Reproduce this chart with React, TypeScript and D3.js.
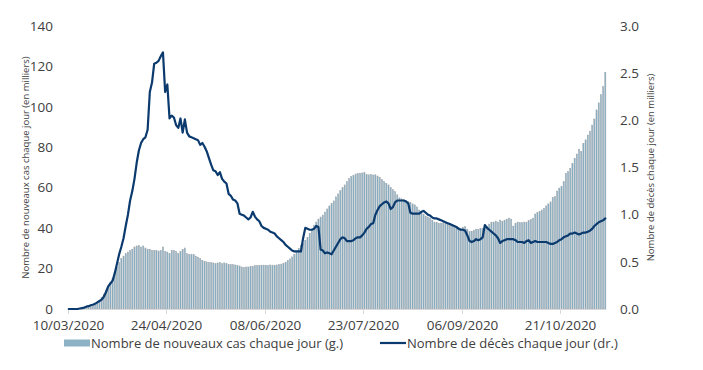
import * as d3 from "d3";

// Daily new cases (thousands), 10/03/2020 -> 10/11/2020, left axis
const cases: number[] = [
  0.1, 0.1, 0.2, 0.2, 0.3, 0.3, 0.4, 0.5, 0.8, 1.0,
  1.2, 1.5, 2.0, 3.0, 4.0, 5.7, 7.4, 9.0, 10.7, 13.2,
  15.0, 18.2, 20.7, 23.0, 24.9, 26.2, 27.4, 28.2, 29.0, 29.6,
  30.7, 31.2, 31.5, 30.7, 31.2, 30.2, 29.6, 29.6, 29.0, 29.0,
  29.0, 28.7, 29.0, 30.7, 28.5, 28.2, 27.4, 29.0, 29.0, 28.5,
  27.4, 28.5, 29.5, 30.2, 27.4, 27.0, 26.9, 26.9, 26.2, 25.7,
  24.9, 24.1, 23.6, 23.3, 23.0, 23.0, 22.8, 22.4, 22.8, 23.0,
  22.4, 22.8, 22.4, 22.1, 22.0, 21.9, 21.8, 21.6, 21.3, 20.8,
  20.5, 20.8, 20.8, 21.0, 21.2, 21.5, 21.5, 21.6, 21.7, 21.7,
  21.7, 21.6, 21.8, 21.7, 21.7, 21.8, 22.0, 22.2, 22.5, 23.2,
  24.0, 24.8, 25.8, 27.0, 28.5, 30.0, 31.5, 32.5, 34.0, 35.5,
  37.5, 39.5, 41.5, 43.0, 44.5, 45.5, 46.5, 48.0, 49.5, 51.0,
  52.3, 53.5, 55.5, 57.0, 58.5, 60.0, 61.4, 63.0, 64.5, 65.5,
  66.2, 66.8, 67.0, 67.2, 67.3, 67.5, 66.5, 66.4, 66.6, 66.3,
  66.4, 65.8, 65.0, 64.0, 63.0, 62.2, 61.4, 60.0, 59.0, 58.0,
  56.5, 55.0, 54.5, 54.0, 53.8, 53.2, 52.8, 52.0, 51.5, 50.5,
  49.0, 48.0, 47.0, 46.0, 45.5, 45.0, 44.0, 43.0, 42.8, 42.4,
  42.5, 42.6, 42.2, 41.8, 41.6, 41.3, 41.0, 40.6, 40.2, 40.0,
  40.5, 40.7, 39.5, 38.3, 38.5, 39.0, 39.5, 39.5, 40.0, 40.0,
  40.5, 41.0, 42.0, 43.0, 43.0, 43.5, 43.0, 44.0, 43.5, 44.0,
  44.5, 45.0, 44.5, 41.0, 42.5, 43.0, 42.7, 42.7, 43.0, 43.0,
  43.7, 44.4, 45.0, 47.0, 47.7, 48.2, 49.0, 49.8, 51.0, 52.0,
  53.0, 55.3, 55.6, 58.4, 59.8, 60.6, 63.0, 67.2, 68.0, 69.6,
  72.1, 74.6, 76.7, 79.1, 77.9, 82.0, 83.7, 86.1, 88.0, 91.0,
  94.0, 98.5, 102.0, 106.0, 110.0, 117.0,
];

// Daily deaths (thousands), right axis
const deaths: number[] = [
  0, 0, 0, 0, 0, 0.005, 0.01, 0.015, 0.025, 0.03,
  0.04, 0.045, 0.055, 0.07, 0.085, 0.1, 0.13, 0.18, 0.24, 0.27,
  0.3, 0.38, 0.48, 0.58, 0.66, 0.75, 0.88, 1.0, 1.15, 1.25,
  1.38, 1.55, 1.68, 1.76, 1.8, 1.82, 1.9, 2.3, 2.4, 2.6,
  2.61, 2.63, 2.68, 2.72, 2.3, 2.38, 2.02, 2.05, 2.03, 1.95,
  1.92, 2.02, 1.87, 2.01, 1.87, 1.83, 1.82, 1.81, 1.8, 1.79,
  1.74, 1.76, 1.72, 1.67, 1.6, 1.53, 1.47, 1.46, 1.42, 1.45,
  1.38, 1.35, 1.33, 1.22, 1.2, 1.16, 1.15, 1.12, 1.01, 1.0,
  0.99, 0.97, 0.95, 0.97, 1.03, 0.98, 0.95, 0.93, 0.88, 0.86,
  0.85, 0.84, 0.82, 0.81, 0.8, 0.77, 0.75, 0.73, 0.71, 0.68,
  0.66, 0.64, 0.62, 0.61, 0.61, 0.61, 0.61, 0.75, 0.86, 0.85,
  0.84, 0.84, 0.85, 0.88, 0.87, 0.63, 0.62, 0.59, 0.6, 0.59,
  0.58, 0.62, 0.66, 0.7, 0.74, 0.76, 0.75, 0.72, 0.72, 0.72,
  0.73, 0.75, 0.76, 0.76, 0.78, 0.81, 0.85, 0.87, 0.9, 0.91,
  1.0, 1.05, 1.09, 1.11, 1.13, 1.14, 1.12, 1.06, 1.08, 1.13,
  1.15, 1.15, 1.15, 1.15, 1.14, 1.12, 1.02, 1.01, 1.01, 1.01,
  1.01, 1.03, 1.04, 1.02, 1.0, 0.99, 0.97, 0.96, 0.96, 0.95,
  0.94, 0.93, 0.92, 0.91, 0.9, 0.89, 0.88, 0.87, 0.85, 0.84,
  0.84, 0.83, 0.78, 0.72, 0.71, 0.72, 0.74, 0.73, 0.74, 0.76,
  0.89, 0.86, 0.84, 0.82, 0.8, 0.78, 0.75, 0.7, 0.72, 0.73,
  0.74, 0.74, 0.74, 0.74, 0.73, 0.71, 0.71, 0.71, 0.7, 0.72,
  0.73, 0.7, 0.71, 0.72, 0.71, 0.71, 0.71, 0.71, 0.71, 0.7,
  0.69, 0.69, 0.7, 0.71, 0.73, 0.74, 0.76, 0.77, 0.78, 0.8,
  0.8, 0.81, 0.8, 0.79, 0.8, 0.81, 0.81, 0.82, 0.83, 0.85,
  0.88, 0.9, 0.92, 0.93, 0.94, 0.96,
];

const START = new Date(2020, 2, 10);
const days = cases.map((_, i) => d3.timeDay.offset(START, i));
const fmt = d3.timeFormat("%d/%m/%Y");

const leftTicks = [0, 20, 40, 60, 80, 100, 120, 140];
const rightTicks = [0, 0.5, 1.0, 1.5, 2.0, 2.5, 3.0];
const TICK_EVERY = 45;

const LEGEND_CASES = "Nombre de nouveaux cas chaque jour (g.)";
const LEGEND_DEATHS = "Nombre de décès chaque jour (dr.)";
const TITLE_LEFT = "Nombre de nouveaux cas chaque jour (en milliers)";
const TITLE_RIGHT = "Nombre de décès chaque jour (en milliers)";

const W = 703;
const H = 370;
const PLOT = { left: 67.7, right: 606.4, top: 26, bottom: 309 };
const FONT = "'Open Sans', sans-serif";
const BAR_FILL = "#7eaec9";
const BAR_EDGE = "#a3a7aa";
const LINE = "#0b3a6e";
const TEXT = "#404040";

export default function App() {
  const x = d3
    .scaleBand<number>()
    .domain(days.map((_, i) => i))
    .range([PLOT.left, PLOT.right])
    .padding(0);
  const step = x.step();
  const yL = d3.scaleLinear().domain([0, 140]).range([PLOT.bottom, PLOT.top]);
  const yR = d3.scaleLinear().domain([0, 3]).range([PLOT.bottom, PLOT.top]);

  const barW = step * 0.55;
  const line = d3
    .line<number>()
    .x((_, i) => (x(i) ?? 0) + step / 2)
    .y((d) => yR(d));

  const tickIdx = days.map((_, i) => i).filter((i) => i % TICK_EVERY === 0);
  const midY = (PLOT.top + PLOT.bottom) / 2;

  return (
    <svg
      width={W}
      height={H}
      style={{ position: "absolute", left: 0, top: 0, background: "#fff" }}
      fontFamily={FONT}
    >
      {/* bars: new cases */}
      <g>
        {cases.map((v, i) => (
          <rect
            key={i}
            x={(x(i) ?? 0) + (step - barW) / 2}
            y={yL(v)}
            width={barW}
            height={PLOT.bottom - yL(v)}
            fill={BAR_FILL}
            stroke={BAR_EDGE}
            strokeWidth={0.45}
          />
        ))}
      </g>

      {/* x axis */}
      <line x1={PLOT.left} x2={PLOT.right} y1={PLOT.bottom + 0.5} y2={PLOT.bottom + 0.5} stroke="#d9d9d9" />
      {tickIdx.map((i) => (
        <g key={i} transform={`translate(${Math.round(x(i) ?? 0) + 0.5},${PLOT.bottom})`}>
          <line y1={0} y2={5} stroke="#d9d9d9" />
          <text y={21} textAnchor="middle" fontSize={13.5} fill={TEXT}>
            {fmt(days[i])}
          </text>
        </g>
      ))}

      {/* death line */}
      <path
        d={line(deaths) ?? ""}
        fill="none"
        stroke={LINE}
        strokeWidth={2.2}
        strokeLinejoin="round"
        strokeLinecap="round"
      />

      {/* left axis */}
      {leftTicks.map((t) => (
        <text key={t} x={53} y={yL(t)} dy="0.35em" textAnchor="end" fontSize={13.5} fill={TEXT}>
          {t}
        </text>
      ))}
      {/* right axis */}
      {rightTicks.map((t) => (
        <text key={t} x={620} y={yR(t)} dy="0.35em" textAnchor="start" fontSize={13.5} fill={TEXT}>
          {t.toFixed(1)}
        </text>
      ))}

      <text
        transform={`translate(26,${midY}) rotate(-90)`}
        textAnchor="middle"
        dy="0.35em"
        fontSize={9.5}
        fill={TEXT}
      >
        {TITLE_LEFT}
      </text>
      <text
        transform={`translate(651,${midY}) rotate(-90)`}
        textAnchor="middle"
        dy="0.35em"
        fontSize={9.5}
        fill={TEXT}
      >
        {TITLE_RIGHT}
      </text>

      {/* legend */}
      <rect x={64} y={339.5} width={26} height={7} fill="#8db2c6" />
      <text x={91} y={348} fontSize={13} fill={TEXT}>
        {LEGEND_CASES}
      </text>
      <line x1={380} x2={406} y1={343} y2={343} stroke={LINE} strokeWidth={2.2} />
      <text x={407} y={348} fontSize={13} fill={TEXT}>
        {LEGEND_DEATHS}
      </text>
    </svg>
  );
}
